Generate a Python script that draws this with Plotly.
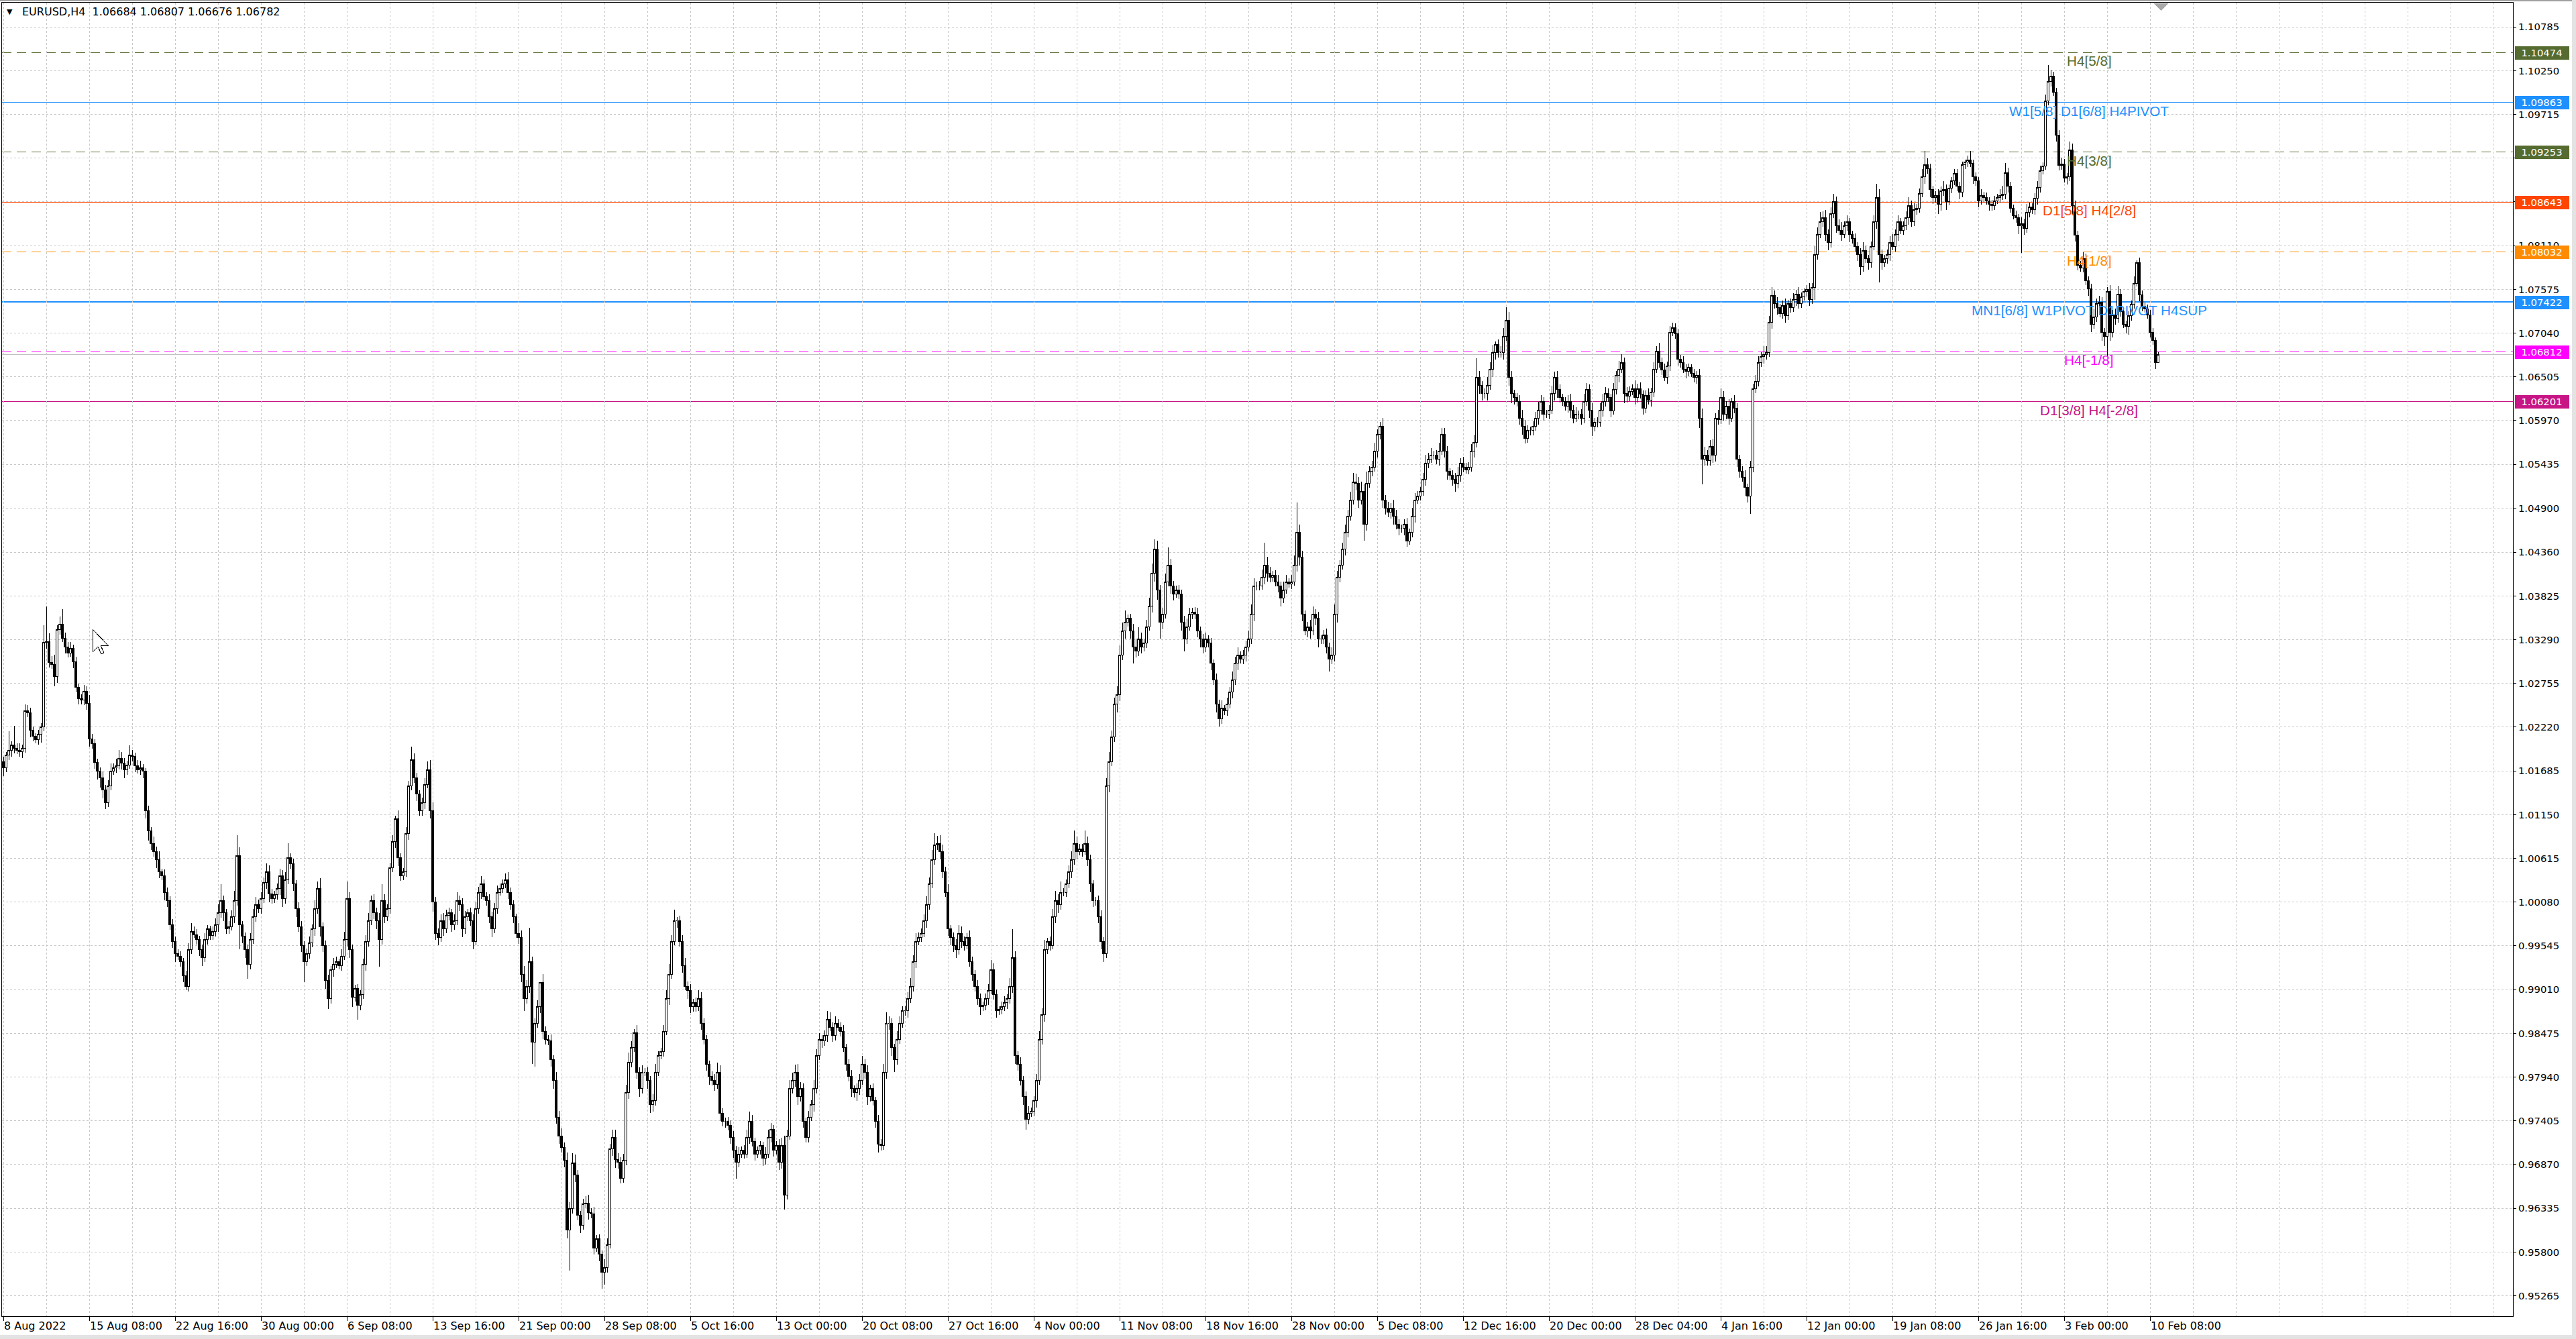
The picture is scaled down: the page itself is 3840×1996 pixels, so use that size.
import numpy as np
import plotly.graph_objects as go

# ---------------- data (EURUSD H4, prices in pips = 1e-4) ----------------
first_open_pips = 10180

close_pips = [
    10172, 10188, 10194, 10200, 10196, 10194,
    10192, 10196, 10242, 10240, 10218, 10211,
    10207, 10213, 10222, 10326, 10327, 10301,
    10299, 10284, 10341, 10348, 10331, 10320,
    10313, 10318, 10302, 10271, 10257, 10255,
    10266, 10251, 10208, 10202, 10179, 10168,
    10160, 10145, 10130, 10150, 10168, 10172,
    10175, 10184, 10178, 10170, 10176, 10188,
    10186, 10175, 10170, 10172, 10168, 10120,
    10095, 10080, 10070, 10060, 10045, 10040,
    10020, 10010, 9980, 9960, 9945, 9942,
    9935, 9918, 9905, 9950, 9972, 9968,
    9962, 9950, 9940, 9962, 9975, 9967,
    9972, 9980, 9995, 10010, 9995, 9975,
    9978, 9990, 10010, 10065, 9980, 9966,
    9950, 9932, 9962, 9990, 10005, 10000,
    10012, 10032, 10045, 10018, 10012, 10017,
    10025, 10040, 10012, 10035, 10062, 10055,
    10030, 10000, 9978, 9955, 9935, 9945,
    9958, 9975, 10000, 10025, 9978, 9955,
    9912, 9890, 9925, 9932, 9935, 9930,
    9942, 9962, 10012, 9950, 9892, 9902,
    9882, 9895, 9932, 9960, 9985, 10010,
    9995, 9985, 9962, 10010, 9990, 10000,
    10050, 10082, 10110, 10062, 10040, 10045,
    10092, 10150, 10182, 10160, 10140, 10120,
    10130, 10152, 10170, 10120, 10008, 9970,
    9965, 9985, 9975, 9992, 9995, 9980,
    9985, 10010, 10005, 9975, 9990, 9995,
    9985, 9960, 10000, 10020, 10030, 10015,
    10010, 9990, 9975, 10000, 10020, 10025,
    10030, 10035, 10020, 10005, 9990, 9970,
    9965, 9920, 9890, 9905, 9935, 9837,
    9860, 9880, 9910, 9850, 9840, 9838,
    9815, 9790, 9745, 9722, 9708, 9692,
    9607, 9633, 9689, 9674, 9625, 9613,
    9639, 9640, 9628, 9627, 9585, 9596,
    9577, 9555, 9561, 9589, 9706, 9720,
    9693, 9690, 9670, 9692, 9775, 9812,
    9830, 9848, 9800, 9780, 9800, 9800,
    9790, 9760, 9765, 9800, 9820, 9825,
    9850, 9890, 9920, 9960, 9985, 9985,
    9960, 9930, 9905, 9900, 9880, 9885,
    9880, 9890, 9860, 9840, 9810, 9795,
    9790, 9785, 9800, 9750, 9740, 9740,
    9735, 9720, 9705, 9690, 9700, 9705,
    9700, 9720, 9740, 9715, 9700, 9705,
    9710, 9695, 9700, 9720, 9730, 9705,
    9710, 9690, 9710, 9650, 9722, 9780,
    9790, 9800, 9770, 9780, 9740, 9720,
    9745, 9760, 9780, 9820, 9840, 9838,
    9845, 9865, 9855, 9845, 9860, 9855,
    9850, 9830, 9810, 9795, 9780, 9775,
    9780, 9790, 9810, 9800, 9770, 9780,
    9765, 9740, 9712, 9710, 9800, 9860,
    9860, 9830, 9815, 9840, 9860, 9875,
    9875, 9890, 9905, 9935, 9960, 9965,
    9970, 9985, 10005, 10030, 10060, 10078,
    10080, 10070, 10045, 10020, 9975, 9965,
    9955, 9950, 9970, 9960, 9955, 9965,
    9935, 9920, 9905, 9890, 9880, 9882,
    9890, 9900, 9925, 9895, 9875, 9877,
    9880, 9885, 9890, 9905, 9940, 9820,
    9810, 9790, 9770, 9742, 9750, 9752,
    9765, 9790, 9840, 9870, 9950, 9960,
    9955, 9990, 10010, 10005, 10020, 10020,
    10030, 10045, 10060, 10080, 10070, 10073,
    10070, 10080, 10060, 10030, 10010, 10010,
    9990, 9960, 9945, 10150, 10180, 10210,
    10250, 10262, 10310, 10340, 10350, 10355,
    10340, 10320, 10315, 10330, 10320, 10325,
    10345, 10370, 10410, 10440, 10390, 10350,
    10360, 10400, 10420, 10395, 10385, 10390,
    10385, 10350, 10330, 10345, 10360, 10363,
    10360, 10340, 10330, 10320, 10330, 10325,
    10300, 10280, 10250, 10232, 10245, 10242,
    10250, 10265, 10280, 10300, 10310, 10305,
    10310, 10320, 10330, 10360, 10395, 10395,
    10395, 10405, 10420, 10410, 10405, 10408,
    10400, 10395, 10380, 10390, 10400, 10397,
    10400, 10420, 10460, 10430, 10360, 10340,
    10345, 10340, 10360, 10355, 10330, 10330,
    10335, 10320, 10305, 10310, 10360, 10405,
    10420, 10440, 10460, 10480, 10500, 10522,
    10520, 10500, 10510, 10470, 10520, 10535,
    10540, 10560, 10580, 10590, 10500, 10490,
    10485, 10490, 10480, 10470, 10465, 10465,
    10470, 10450, 10460, 10480, 10500, 10505,
    10510, 10525, 10545, 10550, 10555, 10555,
    10550, 10560, 10580, 10560, 10535, 10530,
    10525, 10520, 10530, 10545, 10540, 10537,
    10540, 10560, 10570, 10650, 10640, 10630,
    10630, 10640, 10660, 10680, 10690, 10680,
    10680, 10700, 10720, 10650, 10630, 10625,
    10620, 10600, 10590, 10575, 10585, 10585,
    10590, 10600, 10610, 10620, 10605, 10605,
    10610, 10630, 10650, 10635, 10625, 10620,
    10615, 10620, 10610, 10600, 10605, 10605,
    10600, 10620, 10635, 10610, 10590, 10595,
    10595, 10610, 10620, 10630, 10625, 10609,
    10635, 10652, 10660, 10668, 10630, 10627,
    10633, 10636, 10625, 10636, 10629, 10612,
    10628, 10622, 10632, 10660, 10682, 10668,
    10659, 10650, 10664, 10705, 10711, 10703,
    10672, 10668, 10660, 10657, 10662, 10655,
    10650, 10652, 10600, 10550, 10555, 10548,
    10565, 10555, 10600, 10598, 10625, 10605,
    10615, 10600, 10620, 10612, 10550, 10535,
    10528, 10515, 10505, 10540, 10636, 10645,
    10668, 10675, 10678, 10680, 10717, 10750,
    10740, 10735, 10728, 10738, 10725, 10740,
    10735, 10745, 10752, 10740, 10748, 10755,
    10757, 10745, 10760, 10800, 10825, 10840,
    10845, 10825, 10815, 10850, 10865, 10835,
    10830, 10825, 10835, 10840, 10825, 10820,
    10810, 10800, 10785, 10805, 10795, 10790,
    10810, 10840, 10870, 10800, 10790, 10795,
    10800, 10815, 10810, 10825, 10840, 10830,
    10835, 10845, 10860, 10840, 10855, 10857,
    10875, 10895, 10910, 10905, 10880, 10870,
    10872, 10862, 10878, 10880, 10865, 10881,
    10890, 10899, 10884, 10876, 10910, 10913,
    10916, 10912, 10895, 10890, 10866, 10872,
    10870, 10866, 10862, 10860, 10866, 10870,
    10872, 10874, 10900, 10884, 10857, 10848,
    10845, 10835, 10838, 10832, 10852, 10858,
    10855, 10869, 10882, 10903, 10908, 10988,
    11012, 11018, 10999, 10946, 10909, 10911,
    10894, 10895, 10928, 10860, 10824, 10787,
    10784, 10795, 10768, 10758, 10715, 10724,
    10740, 10742, 10705, 10700, 10755, 10705,
    10726, 10722, 10752, 10730, 10715, 10712,
    10725, 10739, 10765, 10790, 10751, 10737,
    10734, 10726, 10705, 10695, 10668, 10678,
]

# upper wick above the body, pips
hi_ext = [
    6, 4, 23, 5, 24, 6,   8, 5, 8, 7, 6, 5,   4, 6, 5, 21, 43, 10,
    8, 12, 6, 9, 18, 7,   6, 8, 5, 6, 4, 5,   8, 6, 10, 6, 5, 4,
    5, 8, 6, 7, 10, 6,    8, 10, 8, 6, 5, 12, 6, 5, 7, 9, 5, 4,
    6, 5, 8, 6, 10, 4,    8, 6, 5, 7, 6, 5,   6, 5, 6, 8, 10, 6,
    7, 5, 6, 8, 5, 4,     6, 8, 10, 20, 6, 5, 7, 8, 12, 25, 10, 5,
    5, 6, 8, 10, 9, 6,    8, 6, 10, 8, 6, 5,  6, 9, 7, 10, 18, 6,
    6, 5, 8, 7, 5, 6,     8, 6, 10, 8, 12, 5, 6, 7, 5, 8, 6, 4,
    8, 10, 21, 8, 6, 5,   6, 5, 7, 8, 10, 6,  8, 6, 10, 20, 8, 5,
    6, 8, 4, 10, 6, 5,    8, 6, 16, 8, 6, 5,  6, 8, 10, 12, 10, 6,
    6, 8, 10, 7, 6, 5,    8, 10, 6, 8, 7, 5,  6, 8, 9, 7, 10, 6,
    5, 8, 6, 7, 8, 6,     6, 8, 10, 6, 5, 4,  12, 8, 10, 8, 42, 6,
    6, 8, 0, 10, 6, 5,    8, 6, 10, 8, 9, 6,  10, 8, 12, 10, 6, 5,
    6, 8, 10, 6, 8, 5,    6, 5, 10, 8, 6, 10, 10, 8, 6, 8, 10, 12,
    8, 5, 10, 6, 8, 5,    6, 5, 8, 10, 6, 5,  8, 10, 12, 8, 14, 5,
    6, 8, 10, 6, 8, 5,    6, 10, 8, 6, 5, 4,  6, 8, 12, 8, 6, 4,
    5, 6, 8, 5, 8, 4,     6, 10, 12, 8, 5, 4, 6, 5, 8, 10, 8, 5,
    6, 8, 10, 12, 8, 10,  9, 9, 10, 8, 6, 4,  8, 6, 10, 8, 8, 5,
    6, 10, 8, 6, 8, 5,    6, 8, 5, 6, 8, 4,   6, 8, 10, 6, 8, 5,
    6, 5, 8, 6, 10, 13,   8, 6, 5, 10, 8, 6,  6, 8, 10, 8, 10, 6,
    6, 8, 10, 8, 12, 14,  9, 10, 8, 6, 10, 5, 6, 8, 10, 8, 6, 5,
    8, 6, 5, 8, 6, 4,     6, 8, 12, 8, 6, 4,  6, 8, 5, 10, 35, 8,
    6, 8, 5, 6, 8, 5,     6, 8, 10, 8, 12, 4, 6, 10, 12, 8, 13, 5,
    6, 8, 10, 16, 8, 6,   6, 16, 8, 6, 5, 4,  6, 8, 5, 10, 12, 8,
    8, 10, 12, 10, 15, 5, 6, 8, 10, 14, 8, 5, 8, 10, 12, 12, 10, 6,
    8, 10, 22, 8, 6, 5,   6, 5, 8, 10, 8, 5,  6, 8, 5, 6, 8, 4,
    6, 5, 8, 6, 10, 4,    8, 6, 10, 8, 10, 5, 6, 8, 10, 12, 9, 5,
    6, 10, 28, 10, 8, 5,  6, 8, 5, 10, 8, 4,  8, 12, 37, 10, 8, 5,
    6, 8, 10, 6, 8, 4,    6, 8, 5, 10, 12, 8, 6, 8, 10, 8, 10, 11,
    10, 8, 12, 10, 15, 6, 8, 10, 6, 5, 10, 6, 8, 6, 10, 8, 6, 5,
    6, 8, 5, 10, 8, 6,    6, 8, 10, 8, 8, 5,  6, 10, 8, 8, 6, 4,
    6, 8, 10, 6, 8, 5,    6, 8, 10, 23, 8, 5, 6, 10, 8, 10, 4, 6,
    8, 10, 16, 10, 8, 5,  6, 8, 10, 8, 6, 5,  6, 8, 10, 8, 6, 5,
    6, 10, 7, 8, 6, 5,    6, 8, 10, 6, 8, 4,  6, 10, 8, 6, 8, 5,
    6, 8, 10, 8, 6, 5,
    8, 6, 10, 10, 6, 8,   6, 5, 10, 6, 8, 5,  6, 8, 5, 8, 6, 10,
    6, 8, 5, 8, 6, 5,     6, 5, 8, 6, 5, 4,   5, 6, 8, 12, 10, 6,
    8, 10, 6, 10, 11, 8,  6, 8, 5, 8, 6, 5,   6, 8, 5, 8, 6, 8,
    8, 6, 10, 8, 8, 10,   6, 8, 5, 6, 8, 5,   6, 8, 5, 8, 6, 4,
    6, 8, 5, 10, 8, 12,   8, 10, 6, 8, 9, 6,  8, 10, 6, 8, 5, 4,
    6, 5, 8, 10, 6, 5,    6, 8, 17, 10, 6, 5, 6, 8, 10, 6, 8, 5,
    6, 8, 10, 6, 8, 5,    6, 10, 17, 8, 6, 4, 6, 8, 5, 10, 6, 5,
    5, 6, 6, 5, 4, 3,     5, 11, 4, 6, 5, 8,  5, 6, 4, 5, 6, 4,
    8, 10, 12, 6, 5, 4,   6, 5, 8, 6, 10, 6,  5, 6, 8, 6, 5, 8,
    20, 8, 6, 5, 6, 8,    6, 5, 10, 8, 6, 5,  5, 8, 6, 5, 6, 10,
    6, 8, 6, 5, 5, 8,     6, 8, 10, 6, 5, 4,  6, 5, 8, 3, 6, 5,
    4, 5, 6, 5, 4, 3,
]

# lower wick below the body, pips
lo_ext = [
    10, 5, 6, 8, 6, 5,    6, 8, 5, 6, 8, 6,   5, 6, 10, 5, 8, 6,
    6, 12, 8, 6, 5, 8,    6, 5, 8, 6, 7, 5,   6, 8, 10, 6, 8, 10,
    12, 10, 8, 6, 5, 4,   6, 5, 8, 10, 6, 5,  6, 8, 5, 6, 8, 10,
    12, 8, 6, 10, 8, 5,   10, 8, 6, 8, 10, 5, 6, 8, 5, 6, 5, 4,
    6, 8, 10, 5, 6, 5,    5, 6, 8, 6, 10, 6,  6, 5, 8, 6, 30, 8,
    10, 18, 6, 5, 6, 5,   6, 5, 8, 10, 6, 5,  6, 8, 10, 6, 5, 6,
    8, 10, 6, 8, 25, 5,   6, 5, 8, 6, 12, 8,  10, 13, 6, 8, 5, 4,
    6, 5, 8, 10, 12, 6,   18, 6, 5, 8, 6, 5,  8, 10, 33, 6, 8, 5,
    6, 5, 8, 10, 6, 5,    6, 8, 5, 6, 8, 6,   6, 8, 5, 10, 12, 8,
    10, 6, 8, 5, 6, 8,    6, 5, 8, 10, 6, 5,  6, 10, 5, 6, 8, 5,
    6, 8, 10, 5, 6, 4,    6, 5, 8, 6, 8, 6,   8, 10, 15, 6, 8, 27,
    30, 6, 8, 10, 6, 5,   8, 10, 8, 10, 6, 8, 10, 50, 6, 8, 6, 10,
    6, 5, 8, 6, 8, 5,     8, 20, 15, 6, 5, 8, 10, 8, 6, 5, 6, 8,
    6, 5, 8, 10, 6, 5,    10, 10, 8, 6, 5, 4, 6, 5, 8, 6, 5, 8,
    6, 8, 5, 10, 8, 6,    6, 5, 8, 6, 8, 10,  6, 8, 5, 10, 6, 8,
    6, 8, 10, 20, 6, 5,   6, 5, 8, 6, 8, 5,   6, 10, 8, 5, 6, 8,
    6, 10, 8, 18, 6, 5,   6, 8, 10, 6, 8, 6,  6, 5, 8, 6, 5, 8,
    6, 8, 5, 8, 6, 5,     6, 5, 8, 6, 10, 6,  10, 8, 5, 8, 10, 6,
    6, 8, 10, 6, 5, 8,    8, 10, 15, 6, 5, 6, 6, 8, 5, 6, 8, 5,
    6, 5, 8, 6, 5, 6,     6, 10, 8, 6, 8, 10, 8, 10, 6, 8, 6, 5,
    6, 8, 6, 8, 10, 5,    6, 8, 5, 6, 8, 5,   6, 5, 8, 6, 8, 10,
    8, 6, 10, 12, 6, 5,   6, 8, 5, 6, 8, 5,   6, 5, 8, 10, 6, 5,
    6, 5, 8, 6, 10, 5,    6, 5, 8, 10, 8, 6,  8, 10, 10, 5, 8, 6,
    6, 10, 8, 6, 10, 5,   10, 20, 8, 6, 8, 5, 6, 5, 8, 10, 12, 20,
    8, 5, 6, 10, 8, 5,    6, 10, 15, 6, 5, 6, 6, 8, 10, 8, 6, 5,
    8, 6, 10, 9, 6, 5,    6, 5, 8, 6, 8, 5,   6, 8, 5, 6, 8, 6,
    6, 5, 8, 10, 6, 5,    6, 8, 10, 6, 5, 4,  6, 5, 8, 10, 8, 6,
    8, 10, 6, 8, 10, 6,   6, 8, 15, 6, 8, 10, 6, 5, 8, 6, 5, 6,
    8, 10, 6, 20, 8, 5,   6, 5, 8, 6, 10, 8,  6, 8, 10, 6, 8, 5,
    8, 7, 5, 6, 8, 5,     6, 5, 8, 6, 5, 6,   6, 8, 5, 8, 10, 6,
    8, 10, 6, 8, 6, 5,    6, 5, 8, 6, 10, 8,  6, 8, 5, 10, 8, 6,
    6, 8, 5, 10, 12, 8,   6, 8, 10, 6, 5, 6,  6, 5, 8, 6, 8, 5,
    6, 5, 8, 10, 6, 5,    6, 8, 10, 6, 5, 6,  8, 6, 5, 10, 12, 6,
    6, 5, 8, 6, 5, 8,
    5, 6, 8, 5, 12, 8,    6, 5, 8, 6, 5, 8,   6, 5, 8, 6, 5, 6,
    6, 5, 8, 6, 5, 6,     8, 6, 5, 8, 6, 5,   6, 8, 12, 31, 8, 6,
    6, 10, 8, 6, 5, 8,    6, 8, 5, 6, 10, 8,  6, 10, 8, 22, 6, 5,
    6, 5, 8, 6, 5, 8,     6, 8, 5, 6, 8, 5,   6, 5, 8, 6, 5, 4,
    6, 8, 5, 15, 6, 5,    6, 8, 10, 6, 5, 8,  6, 8, 5, 6, 10, 6,
    6, 8, 10, 6, 5, 8,    6, 5, 8, 34, 8, 5,  6, 8, 5, 6, 8, 5,
    6, 5, 8, 6, 5, 6,     6, 5, 8, 6, 10, 8,  6, 12, 8, 6, 10, 5,
    6, 5, 6, 8, 6, 5,     6, 5, 8, 6, 8, 5,   6, 5, 8, 6, 5, 4,
    6, 5, 6, 8, 6, 5,     6, 10, 33, 8, 5, 6, 5, 6, 8, 6, 5, 4,
    5, 6, 5, 8, 6, 5,     6, 8, 5, 10, 8, 6,  5, 6, 5, 8, 10, 6,
    6, 5, 10, 12, 25, 10, 6, 8, 5, 6, 5, 8,   10, 6, 5, 4, 8, 6,
    5, 4, 6, 5, 8, 0,
]

x_labels = ["8 Aug 2022", "15 Aug 08:00", "22 Aug 16:00", "30 Aug 00:00", "6 Sep 08:00",
            "13 Sep 16:00", "21 Sep 00:00", "28 Sep 08:00", "5 Oct 16:00", "13 Oct 00:00",
            "20 Oct 08:00", "27 Oct 16:00", "4 Nov 00:00", "11 Nov 08:00", "18 Nov 16:00",
            "28 Nov 00:00", "5 Dec 08:00", "12 Dec 16:00", "20 Dec 00:00", "28 Dec 04:00",
            "4 Jan 16:00", "12 Jan 00:00", "19 Jan 08:00", "26 Jan 16:00", "3 Feb 00:00",
            "10 Feb 08:00"]

y_labels = ["1.10785", "1.10250", "1.09715", "1.09180", "1.08645", "1.08110", "1.07575",
            "1.07040", "1.06505", "1.05970", "1.05435", "1.04900", "1.04360", "1.03825",
            "1.03290", "1.02755", "1.02220", "1.01685", "1.01150", "1.00615", "1.00080",
            "0.99545", "0.99010", "0.98475", "0.97940", "0.97405", "0.96870", "0.96335",
            "0.95800", "0.95265"]
# scale labels hidden behind the level price tags in the terminal
y_labels_hidden = ["1.09180", "1.08645"]

level_prices = [1.10474, 1.09863, 1.09253, 1.08643, 1.08032, 1.07422, 1.06812, 1.06201]
level_names = ["H4[5/8]", "W1[5/8] D1[6/8] H4PIVOT", "H4[3/8]", "D1[5/8] H4[2/8]", "H4[1/8]",
               "MN1[6/8] W1PIVOT D1PIVOT H4SUP", "H4[-1/8]", "D1[3/8] H4[-2/8]"]
top_level_price = 1.11084
top_level_name = "D1[7/8] H4[6/8]"
bid_price = 1.06782
title_text = "EURUSD,H4  1.06684 1.06807 1.06676 1.06782"

# ---------------- styles ----------------
level_colors = ["#556B2F", "#1E90FF", "#556B2F", "#FF4500", "#FF8C00", "#1E90FF", "#FF00FF", "#C71585"]
level_dash = ["14px,8px", "solid", "14px,8px", "solid", "14px,8px", "solid", "14px,8px", "solid"]
level_width = [1, 1, 1, 1, 1, 2, 1, 1]

W, H = 3840, 1996
L, R, T, B = 3, 94, 4, 34
PW, PH = W - L - R, H - T - B


def px(xp):
    return (xp - L) / PW


def py(yp):
    return (H - B - yp) / PH


# ---------------- build candles ----------------
c = np.array(close_pips, dtype=float) / 10000.0
o = np.concatenate([[first_open_pips / 10000.0], c[:-1]])
hi = np.maximum(o, c) + np.array(hi_ext) / 10000.0
lo = np.minimum(o, c) - np.array(lo_ext) / 10000.0
xb = np.arange(len(c))

fig = go.Figure()
fig.add_trace(go.Candlestick(
    x=xb, open=o, high=hi, low=lo, close=c,
    increasing=dict(line=dict(color="black", width=1), fillcolor="white"),
    decreasing=dict(line=dict(color="black", width=1), fillcolor="black"),
    whiskerwidth=0, showlegend=False, hoverinfo="skip",
))

label_x = 777.25
shapes = []
annotations = []

# bid line
shapes.append(dict(type="line", xref="paper", x0=0, x1=1, yref="y", y0=bid_price, y1=bid_price,
                   line=dict(color="#C0C0C0", width=1), layer="between"))

for p, col, d, w in zip(level_prices, level_colors, level_dash, level_width):
    shapes.append(dict(type="line", xref="paper", x0=0, x1=1, yref="y", y0=p, y1=p,
                       line=dict(color=col, width=w, dash=d), layer="between"))

for p, col, name in zip(level_prices, level_colors, level_names):
    annotations.append(dict(x=label_x, y=p, xref="x", yref="y", text=name, showarrow=False,
                            xanchor="center", yanchor="top", yshift=1,
                            font=dict(family="Liberation Sans, Arial", size=20.7, color=col)))
annotations.append(dict(x=label_x, y=top_level_price, xref="x", yref="y", text=top_level_name,
                        showarrow=False, xanchor="center", yanchor="top", yshift=1,
                        font=dict(family="Liberation Sans, Arial", size=20.7, color="#FF4500")))

# price tags on the right scale
for p, col in zip(level_prices, level_colors):
    annotations.append(dict(x=1, y=p, xref="paper", yref="y", text=f"{p:.5f}", showarrow=False,
                            xanchor="left", yanchor="middle", xshift=2, bgcolor=col,
                            width=76, height=15, borderpad=2, align="center",
                            font=dict(family="DejaVu Sans", size=14.8, color="white")))

# title
annotations.append(dict(x=px(8), y=py(17), xref="paper", yref="paper", text="▼", showarrow=False,
                        xanchor="left", yanchor="middle",
                        font=dict(family="DejaVu Sans", size=11, color="black")))
annotations.append(dict(x=px(31), y=py(17), xref="paper", yref="paper", text=title_text,
                        showarrow=False, xanchor="left", yanchor="middle",
                        font=dict(family="DejaVu Sans", size=16, color="black")))

# chart-shift marker
shapes.append(dict(type="path", xref="paper", yref="paper",
                   path=f"M {px(3210)} {py(5)} L {px(3232)} {py(5)} L {px(3221)} {py(16)} Z",
                   fillcolor="#A8A8A8", line=dict(width=0), layer="above"))
# mouse pointer left on the chart
cur = [(138, 938), (138, 972), (146, 964), (151, 975), (155, 973), (150, 962), (161, 962)]
cur_path = "M " + " L ".join(f"{px(a)} {py(b)}" for a, b in cur) + " Z"
shapes.append(dict(type="path", xref="paper", yref="paper", path=cur_path,
                   fillcolor="white", line=dict(color="black", width=1), layer="above"))
# window borders
shapes.append(dict(type="rect", xref="paper", yref="paper", x0=px(0), x1=px(W), y0=py(0), y1=py(2),
                   fillcolor="#A0A0A0", line=dict(width=0), layer="above"))
shapes.append(dict(type="rect", xref="paper", yref="paper", x0=px(3834), x1=px(W), y0=py(H), y1=py(0),
                   fillcolor="#E3E3E3", line=dict(width=0), layer="above"))
shapes.append(dict(type="rect", xref="paper", yref="paper", x0=px(0), x1=px(W), y0=py(H), y1=py(1990),
                   fillcolor="#E3E3E3", line=dict(width=0), layer="above"))

major_x = list(range(0, 32 * len(x_labels), 32))
minor_x = [v for v in range(16, 936, 16) if v % 32 != 0 or v > major_x[-1]]
y_text = ["" if t in y_labels_hidden else t for t in y_labels]

grid_col = "#C8C8C8"
fig.update_layout(
    width=W, height=H,
    margin=dict(l=L, r=R, t=T, b=B, pad=0, autoexpand=False),
    paper_bgcolor="white", plot_bgcolor="white",
    showlegend=False,
    boxgap=0.25, boxgroupgap=0.2,
    shapes=shapes, annotations=annotations,
    xaxis=dict(
        range=[-0.5, 935.25], rangeslider=dict(visible=False), automargin=False,
        showline=True, linecolor="black", linewidth=1, mirror=True,
        tickmode="array", tickvals=major_x, ticktext=x_labels,
        ticks="outside", ticklen=6, tickcolor="black", tickwidth=1,
        ticklabelposition="outside right",
        tickfont=dict(family="DejaVu Sans", size=16, color="black"),
        showgrid=True, gridcolor=grid_col, griddash="3px,3px", gridwidth=1,
        minor=dict(tickmode="array", tickvals=minor_x, showgrid=True, gridcolor=grid_col,
                   griddash="3px,3px", gridwidth=1, ticks=""),
        zeroline=False, fixedrange=True,
    ),
    yaxis=dict(
        side="right", range=[0.95015, 1.11082], automargin=False,
        showline=True, linecolor="black", linewidth=1, mirror=True,
        tickmode="array", tickvals=[float(t) for t in y_labels], ticktext=y_text,
        ticks="outside", ticklen=4, tickcolor="black",
        tickfont=dict(family="DejaVu Sans", size=14.8, color="black"),
        showgrid=True, gridcolor=grid_col, griddash="3px,3px", gridwidth=1,
        zeroline=False, fixedrange=True,
    ),
)

page_js = (
    "document.body.style.margin = '0';"
    "document.body.style.overflow = 'hidden';"
    "document.querySelectorAll('svg.main-svg').forEach(s => s.style.shapeRendering = 'crispEdges');"
)
fig.write_html("out.html", post_script=page_js,
               config={"displayModeBar": False, "staticPlot": True})
